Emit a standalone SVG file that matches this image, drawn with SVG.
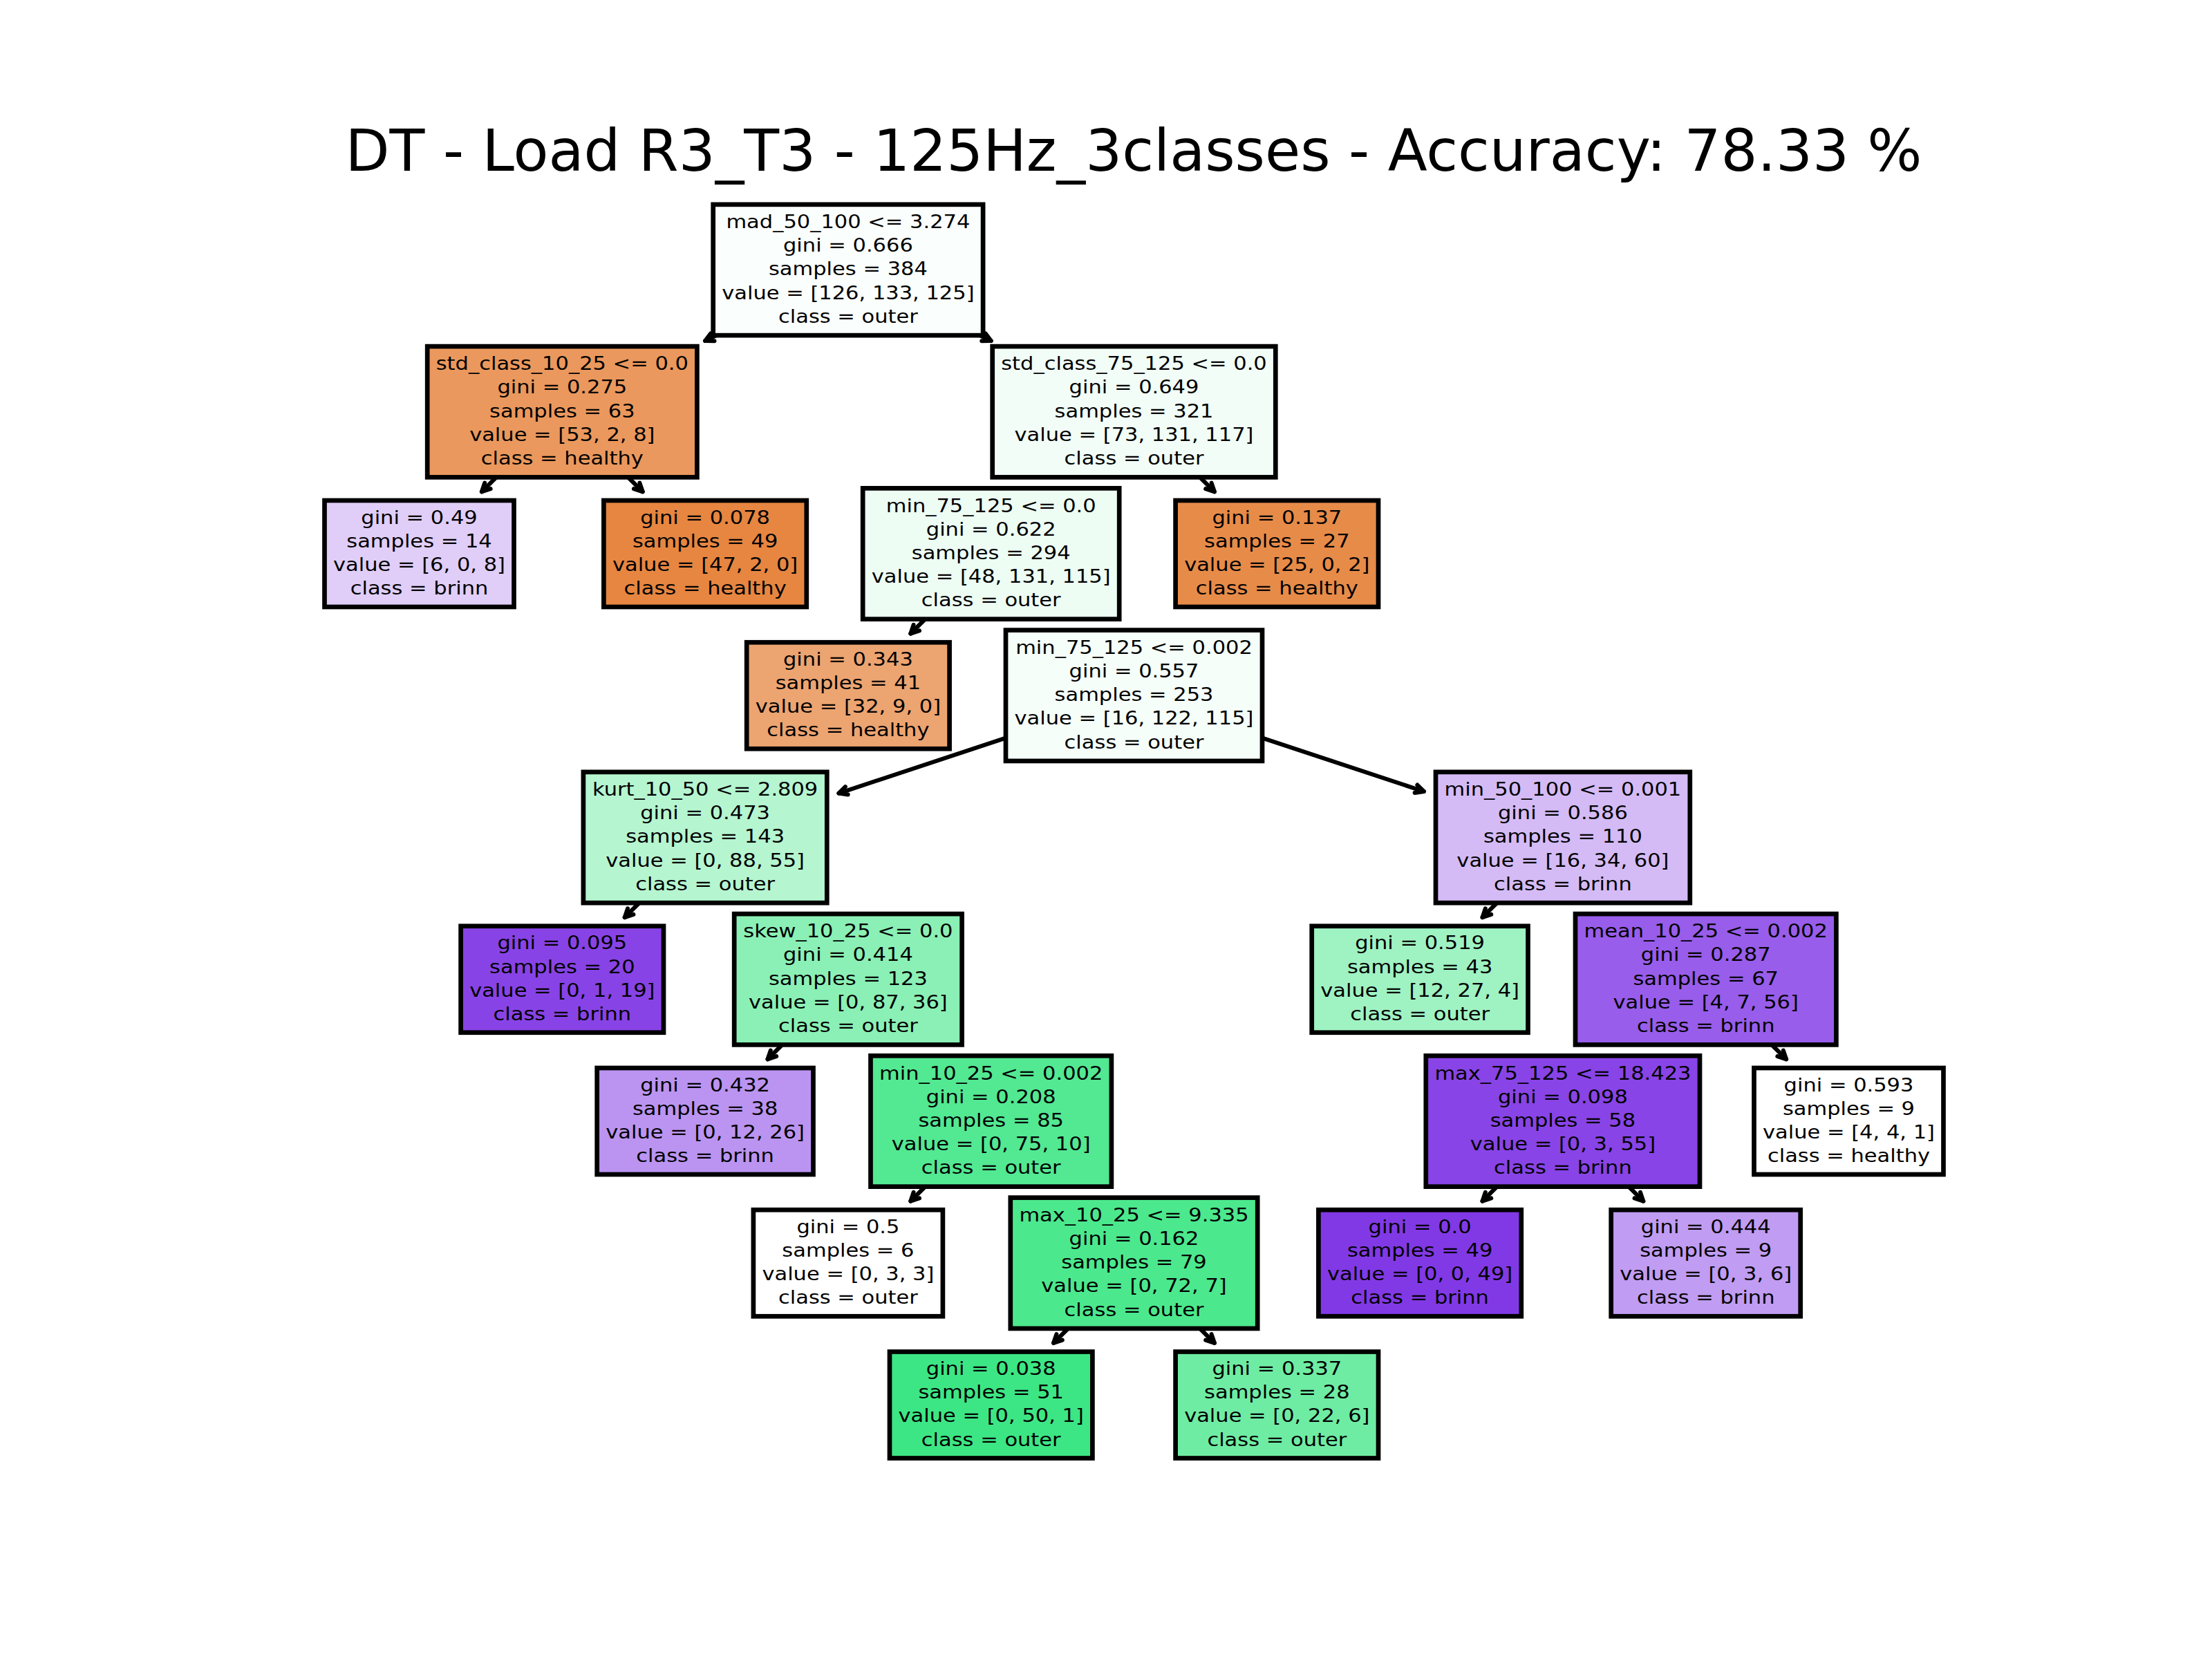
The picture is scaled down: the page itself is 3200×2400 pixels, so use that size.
<svg xmlns="http://www.w3.org/2000/svg" width="3200" height="2400" viewBox="0 0 3200 2400">
<style>
.box{stroke:#000;stroke-width:6.7}
.t{font-family:"DejaVu Sans","Liberation Sans",sans-serif;font-size:26px;text-anchor:middle;fill:#000}
.title{font-family:"DejaVu Sans","Liberation Sans",sans-serif;font-size:83.3px;text-anchor:middle;fill:#000}
.edge{stroke:#000;stroke-width:6;fill:none;stroke-linecap:round;marker-start:url(#ah)}
</style>
<defs>
<marker id="ah" viewBox="-18 -12 24 24" refX="0" refY="0" markerWidth="24" markerHeight="24" markerUnits="userSpaceOnUse" orient="auto-start-reverse" overflow="visible">
<path d="M-12,-6 L0,0 L-12,6" fill="none" stroke="#000" stroke-width="6" stroke-linecap="round" stroke-linejoin="round"/>
</marker>
</defs>
<rect x="0" y="0" width="3200" height="2400" fill="#ffffff"/>
<text class="title" x="1640" y="246.7">DT - Load R3_T3 - 125Hz_3classes - Accuracy: 78.33 %</text>

<g id="connectors">
<path class="edge" d="M1020.1,493.1 L1038.9,483.8"/>
<path class="edge" d="M1433.7,493.1 L1414.9,483.8"/>
<path class="edge" d="M696.9,711.3 L720.1,688.25"/>
<path class="edge" d="M929.7,711.3 L906.5,688.25"/>
<path class="edge" d="M1554.2,681.4 L1572.1,663.6"/>
<path class="edge" d="M1756.9,711.3 L1733.7,688.25"/>
<path class="edge" d="M1317.3,916.6 L1340.5,893.5"/>
<path class="edge" d="M1520,886.65 L1502.1,868.85"/>
<path class="edge" d="M1213.4,1147.55 L1457.8,1066.7"/>
<path class="edge" d="M2059.9,1145 L1823.2,1066.7"/>
<path class="edge" d="M903.7,1327.1 L926.9,1304"/>
<path class="edge" d="M1106.4,1297.15 L1088.5,1279.35"/>
<path class="edge" d="M2144.5,1327.1 L2167.7,1304"/>
<path class="edge" d="M2347.2,1297.15 L2329.3,1279.35"/>
<path class="edge" d="M1110.5,1532.3 L1133.7,1509.25"/>
<path class="edge" d="M1313.2,1502.4 L1295.3,1484.6"/>
<path class="edge" d="M2381.4,1502.4 L2399.3,1484.6"/>
<path class="edge" d="M2584.1,1532.3 L2560.9,1509.25"/>
<path class="edge" d="M1317.3,1737.6 L1340.5,1714.5"/>
<path class="edge" d="M1520,1707.65 L1502.1,1689.85"/>
<path class="edge" d="M2144.5,1737.6 L2167.7,1714.5"/>
<path class="edge" d="M2377.3,1737.6 L2354.1,1714.5"/>
<path class="edge" d="M1524.1,1942.8 L1547.3,1919.75"/>
<path class="edge" d="M1756.9,1942.8 L1733.7,1919.75"/>
</g>

<g id="n1">
<rect class="box" x="1031.7" y="295.85" width="390.4" height="189.3" fill="#fafefc"/>
<text class="t" transform="translate(1226.9,390.5) scale(1.173,1)"><tspan x="0" y="-60.5">mad_50_100 &lt;= 3.274</tspan><tspan x="0" y="-26.3">gini = 0.666</tspan><tspan x="0" y="7.9">samples = 384</tspan><tspan x="0" y="42.1">value = [126, 133, 125]</tspan><tspan x="0" y="76.3">class = outer</tspan></text>
</g>
<g id="n2">
<rect class="box" x="618.2" y="501.1" width="390.2" height="189.3" fill="#ea985d"/>
<text class="t" transform="translate(813.3,595.75) scale(1.173,1)"><tspan x="0" y="-60.5">std_class_10_25 &lt;= 0.0</tspan><tspan x="0" y="-26.3">gini = 0.275</tspan><tspan x="0" y="7.9">samples = 63</tspan><tspan x="0" y="42.1">value = [53, 2, 8]</tspan><tspan x="0" y="76.3">class = healthy</tspan></text>
</g>
<g id="n3">
<rect class="box" x="1435.7" y="501.1" width="409.6" height="189.3" fill="#f1fdf6"/>
<text class="t" transform="translate(1640.5,595.75) scale(1.173,1)"><tspan x="0" y="-60.5">std_class_75_125 &lt;= 0.0</tspan><tspan x="0" y="-26.3">gini = 0.649</tspan><tspan x="0" y="7.9">samples = 321</tspan><tspan x="0" y="42.1">value = [73, 131, 117]</tspan><tspan x="0" y="76.3">class = outer</tspan></text>
</g>
<g id="n4">
<rect class="box" x="469.5" y="724" width="274" height="154" fill="#e0cef8"/>
<text class="t" transform="translate(606.5,801) scale(1.173,1)"><tspan x="0" y="-43.4">gini = 0.49</tspan><tspan x="0" y="-9.2">samples = 14</tspan><tspan x="0" y="25">value = [6, 0, 8]</tspan><tspan x="0" y="59.2">class = brinn</tspan></text>
</g>
<g id="n5">
<rect class="box" x="873.4" y="724" width="293.4" height="154" fill="#e68641"/>
<text class="t" transform="translate(1020.1,801) scale(1.173,1)"><tspan x="0" y="-43.4">gini = 0.078</tspan><tspan x="0" y="-9.2">samples = 49</tspan><tspan x="0" y="25">value = [47, 2, 0]</tspan><tspan x="0" y="59.2">class = healthy</tspan></text>
</g>
<g id="n6">
<rect class="box" x="1248.2" y="706.35" width="371" height="189.3" fill="#edfdf4"/>
<text class="t" transform="translate(1433.7,801) scale(1.173,1)"><tspan x="0" y="-60.5">min_75_125 &lt;= 0.0</tspan><tspan x="0" y="-26.3">gini = 0.622</tspan><tspan x="0" y="7.9">samples = 294</tspan><tspan x="0" y="42.1">value = [48, 131, 115]</tspan><tspan x="0" y="76.3">class = outer</tspan></text>
</g>
<g id="n7">
<rect class="box" x="1700.6" y="724" width="293.4" height="154" fill="#e78b49"/>
<text class="t" transform="translate(1847.3,801) scale(1.173,1)"><tspan x="0" y="-43.4">gini = 0.137</tspan><tspan x="0" y="-9.2">samples = 27</tspan><tspan x="0" y="25">value = [25, 0, 2]</tspan><tspan x="0" y="59.2">class = healthy</tspan></text>
</g>
<g id="n8">
<rect class="box" x="1080.2" y="929.25" width="293.4" height="154" fill="#eca471"/>
<text class="t" transform="translate(1226.9,1006.25) scale(1.173,1)"><tspan x="0" y="-43.4">gini = 0.343</tspan><tspan x="0" y="-9.2">samples = 41</tspan><tspan x="0" y="25">value = [32, 9, 0]</tspan><tspan x="0" y="59.2">class = healthy</tspan></text>
</g>
<g id="n9">
<rect class="box" x="1455" y="911.6" width="371" height="189.3" fill="#f5fef9"/>
<text class="t" transform="translate(1640.5,1006.25) scale(1.173,1)"><tspan x="0" y="-60.5">min_75_125 &lt;= 0.002</tspan><tspan x="0" y="-26.3">gini = 0.557</tspan><tspan x="0" y="7.9">samples = 253</tspan><tspan x="0" y="42.1">value = [16, 122, 115]</tspan><tspan x="0" y="76.3">class = outer</tspan></text>
</g>
<g id="n10">
<rect class="box" x="843.9" y="1116.85" width="352.4" height="189.3" fill="#b5f5d0"/>
<text class="t" transform="translate(1020.1,1211.5) scale(1.173,1)"><tspan x="0" y="-60.5">kurt_10_50 &lt;= 2.809</tspan><tspan x="0" y="-26.3">gini = 0.473</tspan><tspan x="0" y="7.9">samples = 143</tspan><tspan x="0" y="42.1">value = [0, 88, 55]</tspan><tspan x="0" y="76.3">class = outer</tspan></text>
</g>
<g id="n11">
<rect class="box" x="2077" y="1116.85" width="367.8" height="189.3" fill="#d4bbf6"/>
<text class="t" transform="translate(2260.9,1211.5) scale(1.173,1)"><tspan x="0" y="-60.5">min_50_100 &lt;= 0.001</tspan><tspan x="0" y="-26.3">gini = 0.586</tspan><tspan x="0" y="7.9">samples = 110</tspan><tspan x="0" y="42.1">value = [16, 34, 60]</tspan><tspan x="0" y="76.3">class = brinn</tspan></text>
</g>
<g id="n12">
<rect class="box" x="666.6" y="1339.75" width="293.4" height="154" fill="#8843e6"/>
<text class="t" transform="translate(813.3,1416.75) scale(1.173,1)"><tspan x="0" y="-43.4">gini = 0.095</tspan><tspan x="0" y="-9.2">samples = 20</tspan><tspan x="0" y="25">value = [0, 1, 19]</tspan><tspan x="0" y="59.2">class = brinn</tspan></text>
</g>
<g id="n13">
<rect class="box" x="1062.2" y="1322.1" width="329.4" height="189.3" fill="#8bf0b5"/>
<text class="t" transform="translate(1226.9,1416.75) scale(1.173,1)"><tspan x="0" y="-60.5">skew_10_25 &lt;= 0.0</tspan><tspan x="0" y="-26.3">gini = 0.414</tspan><tspan x="0" y="7.9">samples = 123</tspan><tspan x="0" y="42.1">value = [0, 87, 36]</tspan><tspan x="0" y="76.3">class = outer</tspan></text>
</g>
<g id="n14">
<rect class="box" x="1897.7" y="1339.75" width="312.8" height="154" fill="#9ff2c2"/>
<text class="t" transform="translate(2054.1,1416.75) scale(1.173,1)"><tspan x="0" y="-43.4">gini = 0.519</tspan><tspan x="0" y="-9.2">samples = 43</tspan><tspan x="0" y="25">value = [12, 27, 4]</tspan><tspan x="0" y="59.2">class = outer</tspan></text>
</g>
<g id="n15">
<rect class="box" x="2279" y="1322.1" width="377.4" height="189.3" fill="#985dea"/>
<text class="t" transform="translate(2467.7,1416.75) scale(1.173,1)"><tspan x="0" y="-60.5">mean_10_25 &lt;= 0.002</tspan><tspan x="0" y="-26.3">gini = 0.287</tspan><tspan x="0" y="7.9">samples = 67</tspan><tspan x="0" y="42.1">value = [4, 7, 56]</tspan><tspan x="0" y="76.3">class = brinn</tspan></text>
</g>
<g id="n16">
<rect class="box" x="863.7" y="1545" width="312.8" height="154" fill="#bb94f1"/>
<text class="t" transform="translate(1020.1,1622) scale(1.173,1)"><tspan x="0" y="-43.4">gini = 0.432</tspan><tspan x="0" y="-9.2">samples = 38</tspan><tspan x="0" y="25">value = [0, 12, 26]</tspan><tspan x="0" y="59.2">class = brinn</tspan></text>
</g>
<g id="n17">
<rect class="box" x="1259.5" y="1527.35" width="348.4" height="189.3" fill="#53e892"/>
<text class="t" transform="translate(1433.7,1622) scale(1.173,1)"><tspan x="0" y="-60.5">min_10_25 &lt;= 0.002</tspan><tspan x="0" y="-26.3">gini = 0.208</tspan><tspan x="0" y="7.9">samples = 85</tspan><tspan x="0" y="42.1">value = [0, 75, 10]</tspan><tspan x="0" y="76.3">class = outer</tspan></text>
</g>
<g id="n18">
<rect class="box" x="2062.8" y="1527.35" width="396.2" height="189.3" fill="#8844e6"/>
<text class="t" transform="translate(2260.9,1622) scale(1.173,1)"><tspan x="0" y="-60.5">max_75_125 &lt;= 18.423</tspan><tspan x="0" y="-26.3">gini = 0.098</tspan><tspan x="0" y="7.9">samples = 58</tspan><tspan x="0" y="42.1">value = [0, 3, 55]</tspan><tspan x="0" y="76.3">class = brinn</tspan></text>
</g>
<g id="n19">
<rect class="box" x="2537.5" y="1545" width="274" height="154" fill="#ffffff"/>
<text class="t" transform="translate(2674.5,1622) scale(1.173,1)"><tspan x="0" y="-43.4">gini = 0.593</tspan><tspan x="0" y="-9.2">samples = 9</tspan><tspan x="0" y="25">value = [4, 4, 1]</tspan><tspan x="0" y="59.2">class = healthy</tspan></text>
</g>
<g id="n20">
<rect class="box" x="1089.9" y="1750.25" width="274" height="154" fill="#ffffff"/>
<text class="t" transform="translate(1226.9,1827.25) scale(1.173,1)"><tspan x="0" y="-43.4">gini = 0.5</tspan><tspan x="0" y="-9.2">samples = 6</tspan><tspan x="0" y="25">value = [0, 3, 3]</tspan><tspan x="0" y="59.2">class = outer</tspan></text>
</g>
<g id="n21">
<rect class="box" x="1461.8" y="1732.6" width="357.4" height="189.3" fill="#4ce88d"/>
<text class="t" transform="translate(1640.5,1827.25) scale(1.173,1)"><tspan x="0" y="-60.5">max_10_25 &lt;= 9.335</tspan><tspan x="0" y="-26.3">gini = 0.162</tspan><tspan x="0" y="7.9">samples = 79</tspan><tspan x="0" y="42.1">value = [0, 72, 7]</tspan><tspan x="0" y="76.3">class = outer</tspan></text>
</g>
<g id="n22">
<rect class="box" x="1907.4" y="1750.25" width="293.4" height="154" fill="#8139e5"/>
<text class="t" transform="translate(2054.1,1827.25) scale(1.173,1)"><tspan x="0" y="-43.4">gini = 0.0</tspan><tspan x="0" y="-9.2">samples = 49</tspan><tspan x="0" y="25">value = [0, 0, 49]</tspan><tspan x="0" y="59.2">class = brinn</tspan></text>
</g>
<g id="n23">
<rect class="box" x="2330.7" y="1750.25" width="274" height="154" fill="#c09cf2"/>
<text class="t" transform="translate(2467.7,1827.25) scale(1.173,1)"><tspan x="0" y="-43.4">gini = 0.444</tspan><tspan x="0" y="-9.2">samples = 9</tspan><tspan x="0" y="25">value = [0, 3, 6]</tspan><tspan x="0" y="59.2">class = brinn</tspan></text>
</g>
<g id="n24">
<rect class="box" x="1287" y="1955.5" width="293.4" height="154" fill="#3de684"/>
<text class="t" transform="translate(1433.7,2032.5) scale(1.173,1)"><tspan x="0" y="-43.4">gini = 0.038</tspan><tspan x="0" y="-9.2">samples = 51</tspan><tspan x="0" y="25">value = [0, 50, 1]</tspan><tspan x="0" y="59.2">class = outer</tspan></text>
</g>
<g id="n25">
<rect class="box" x="1700.6" y="1955.5" width="293.4" height="154" fill="#6feca3"/>
<text class="t" transform="translate(1847.3,2032.5) scale(1.173,1)"><tspan x="0" y="-43.4">gini = 0.337</tspan><tspan x="0" y="-9.2">samples = 28</tspan><tspan x="0" y="25">value = [0, 22, 6]</tspan><tspan x="0" y="59.2">class = outer</tspan></text>
</g>
</svg>
